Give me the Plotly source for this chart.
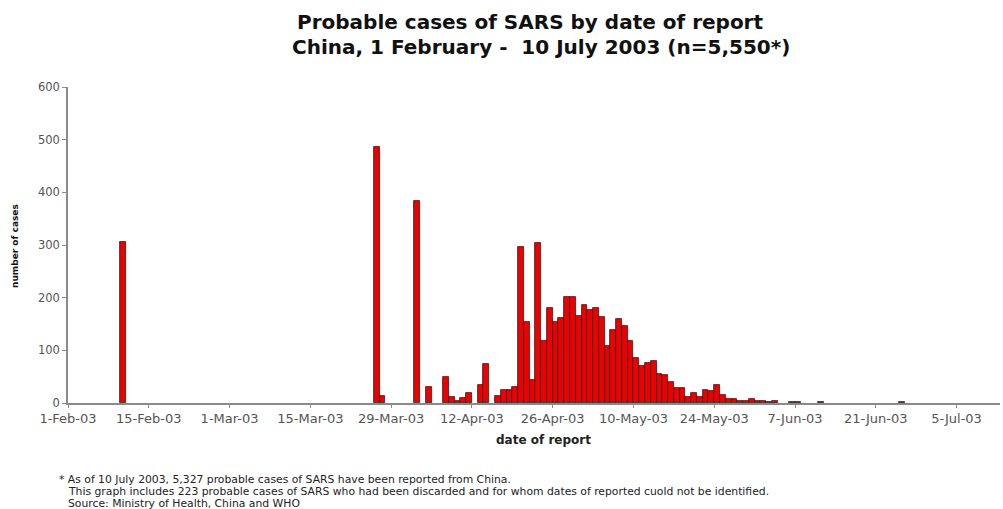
import plotly.graph_objects as go
from datetime import datetime, timedelta

# ---- data ----
report_dates = [
    "2003-02-10", "2003-03-26", "2003-03-27", "2003-04-02", "2003-04-04",
    "2003-04-07", "2003-04-08", "2003-04-09", "2003-04-10", "2003-04-11",
    "2003-04-13", "2003-04-14", "2003-04-16", "2003-04-17", "2003-04-18",
    "2003-04-19", "2003-04-20", "2003-04-21", "2003-04-22", "2003-04-23",
    "2003-04-24", "2003-04-25", "2003-04-26", "2003-04-27", "2003-04-28",
    "2003-04-29", "2003-04-30", "2003-05-01", "2003-05-02", "2003-05-03",
    "2003-05-04", "2003-05-05", "2003-05-06", "2003-05-07", "2003-05-08",
    "2003-05-09", "2003-05-10", "2003-05-11", "2003-05-12", "2003-05-13",
    "2003-05-14", "2003-05-15", "2003-05-16", "2003-05-17", "2003-05-18",
    "2003-05-19", "2003-05-20", "2003-05-21", "2003-05-22", "2003-05-23",
    "2003-05-24", "2003-05-25", "2003-05-26", "2003-05-27", "2003-05-28",
    "2003-05-29", "2003-05-30", "2003-05-31", "2003-06-01", "2003-06-02",
    "2003-06-03", "2003-06-06", "2003-06-07", "2003-06-11", "2003-06-25",
]
cases = [
    305, 487, 14, 384, 30,
    49, 11, 3, 9, 19,
    35, 74, 14, 25, 25,
    30, 296, 153, 43, 304,
    117, 180, 154, 161, 202,
    202, 166, 187, 177, 181,
    163, 108, 139, 159, 147,
    118, 86, 71, 76, 80,
    55, 54, 40, 28, 28,
    11, 19, 11, 25, 22,
    35, 16, 8, 8, 4,
    3, 7, 3, 3, 1,
    4, 1, 1, 1, 1,
]

title_line1 = "Probable cases of SARS by date of report"
title_line2 = "China, 1 February -  10 July 2003 (n=5,550*)"
y_title = "number of cases"
x_title = "date of report"
footnotes = [
    "* As of 10 July 2003, 5,327 probable cases of SARS have been reported from China.",
    "This graph includes 223 probable cases of SARS who had been discarded and for whom dates of reported cuold not be identified.",
    "Source: Ministry of Health, China and WHO",
]

# ---- layout geometry ----
W, H = 1003, 509
L, R, T, B = 68, 3, 87, 106
PW, PH = W - L - R, H - T - B


def px(x):
    return (x - L) / PW


def py(y):
    return (H - B - y) / PH


start = datetime(2003, 2, 1)
x_range = [start, start + timedelta(days=PW / 5.77)]

FONT = "DejaVu Sans"

fig = go.Figure(
    go.Bar(
        x=report_dates,
        y=cases,
        xperiod=86400000,
        xperiodalignment="middle",
        width=86400000,
        marker=dict(color="#EC0000", line=dict(color="#222222", width=0.8)),
        hoverinfo="x+y",
    )
)

annotations = [
    dict(text=f"<b>{title_line1}</b>", x=px(530), y=py(22), xref="paper", yref="paper",
         showarrow=False, xanchor="center", yanchor="middle",
         font=dict(family=FONT, size=20, color="#111111")),
    dict(text=f"<b>{title_line2}</b>", x=px(541), y=py(47), xref="paper", yref="paper",
         showarrow=False, xanchor="center", yanchor="middle",
         font=dict(family=FONT, size=20, color="#111111")),
    dict(text=f"<b>{y_title}</b>", x=px(15), y=py(246), xref="paper", yref="paper",
         showarrow=False, xanchor="center", yanchor="middle", textangle=-90,
         font=dict(family=FONT, size=9, color="#111111")),
    dict(text=f"<b>{x_title}</b>", x=px(543), y=py(440), xref="paper", yref="paper",
         showarrow=False, xanchor="center", yanchor="middle",
         font=dict(family=FONT, size=12, color="#222222")),
]
foot_x = [57, 66, 66]
foot_y = [479, 491, 503]
for txt, fx, fy in zip(footnotes, foot_x, foot_y):
    annotations.append(
        dict(text=txt, x=px(fx), y=py(fy), xref="paper", yref="paper",
             showarrow=False, xanchor="left", yanchor="middle",
             font=dict(family=FONT, size=10.8, color="#222222"))
    )

fig.update_layout(
    width=W, height=H, autosize=False,
    margin=dict(l=L, r=R, t=T, b=B, pad=0),
    paper_bgcolor="white", plot_bgcolor="white",
    bargap=0, showlegend=False,
    font=dict(family=FONT, color="#555555"),
    annotations=annotations,
    xaxis=dict(
        type="date", range=x_range,
        tick0="2003-02-01", dtick=14 * 86400000, tickformat="%-d-%b-%y",
        showline=True, linecolor="#8a8a8a", linewidth=1.5,
        ticks="outside", ticklen=3, tickcolor="#8a8a8a",
        tickfont=dict(family=FONT, size=13, color="#555555"),
        showgrid=False, zeroline=False,
    ),
    yaxis=dict(
        range=[0, 600], tick0=0, dtick=100,
        showline=True, linecolor="#8a8a8a", linewidth=1.5,
        ticks="outside", ticklen=4, tickcolor="#8a8a8a",
        tickfont=dict(family=FONT, size=11.5, color="#555555"),
        showgrid=False, zeroline=False,
    ),
)

fig.write_html("out.html", config={"displayModeBar": False},
               post_script="document.body.style.margin='0';")
